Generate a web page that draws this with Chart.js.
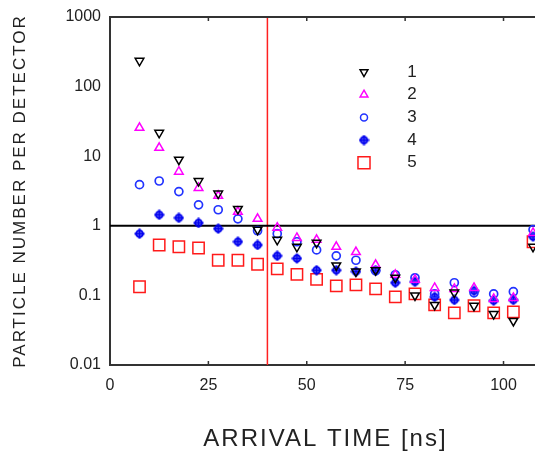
<!DOCTYPE html>
<html lang="en">
<head>
  <meta charset="UTF-8">
  <script src="https://cdn.jsdelivr.net/npm/chart.js"></script>
  <style>
    html, body {
      margin: 0;
      padding: 0;
      background: #fff;
    }

    .chart-wrap {
      position: relative;
      width: 535px;
      height: 455px;
    }
  </style>
</head>
<body>
  <div class="chart-wrap">
    <canvas id="arrival-chart"></canvas>
  </div>
  <script>
    // arrival time bins (ns)
    const arrivalTimes = [7.5, 12.5, 17.5, 22.5, 27.5, 32.5, 37.5, 42.5, 47.5, 52.5, 57.5,
      62.5, 67.5, 72.5, 77.5, 82.5, 87.5, 92.5, 97.5, 102.5, 107.5];

    const detector1 = [235, 21.7, 8.9, 4.4, 2.9, 1.75, 0.88, 0.63, 0.50, 0.57, 0.27,
      0.22, 0.23, 0.18, 0.10, 0.073, 0.11, 0.071, 0.054, 0.043, 0.50];
    const detector2 = [25.6, 13.2, 6.0, 3.5, 2.7, 1.59, 1.26, 0.94, 0.67, 0.63, 0.50,
      0.42, 0.275, 0.198, 0.168, 0.128, 0.124, 0.128, 0.089, 0.092, 0.79];
    const detector3 = [3.9, 4.4, 3.1, 2.0, 1.7, 1.26, 0.85, 0.77, 0.59, 0.45, 0.37,
      0.32, 0.225, 0.198, 0.179, 0.105, 0.152, 0.109, 0.105, 0.113, 0.88];
    const detector4 = [0.77, 1.44, 1.30, 1.10, 0.91, 0.59, 0.53, 0.37, 0.34, 0.23, 0.23,
      0.22, 0.23, 0.152, 0.157, 0.095, 0.086, 0.116, 0.084, 0.086, 0.70];
    const detector5 = [0.133, 0.53, 0.50, 0.48, 0.32, 0.32, 0.28, 0.24, 0.20, 0.17, 0.137,
      0.142, 0.124, 0.095, 0.105, 0.073, 0.056, 0.071, 0.056, 0.058, 0.59];

    const seriesNames = ['1', '2', '3', '4', '5'];
    const xTicks = [0, 25, 50, 75, 100];
    const yTicks = [0.01, 0.1, 1, 10, 100, 1000];
    const cutoffTime = 40;
    const unitLevel = 1;

    // circle with a cross through it, for detector 4
    function crossCircle(color) {
      const c = document.createElement('canvas');
      c.width = 11;
      c.height = 11;
      const g = c.getContext('2d');
      g.strokeStyle = color;
      g.lineWidth = 2;
      g.beginPath();
      g.arc(5.5, 5.5, 3.3, 0, Math.PI * 2);
      g.stroke();
      g.beginPath();
      g.moveTo(5.5, 0.5); g.lineTo(5.5, 10.5);
      g.moveTo(0.5, 5.5); g.lineTo(10.5, 5.5);
      g.stroke();
      return c;
    }

    const toPoints = values => values.map((v, i) => ({ x: arrivalTimes[i], y: v }));

    const styles = [
      { color: '#000000', pointStyle: 'triangle', rotation: 180, radius: 5 },
      { color: '#ff00ff', pointStyle: 'triangle', rotation: 0, radius: 5 },
      { color: '#2233ff', pointStyle: 'circle', rotation: 0, radius: 4 },
      { color: '#0000ee', pointStyle: crossCircle('#0000ee'), rotation: 0, radius: 5 },
      { color: '#ff1a1a', pointStyle: 'rect', rotation: 0, radius: 8 }
    ];
    const allSeries = [detector1, detector2, detector3, detector4, detector5];

    const datasets = allSeries.map((values, i) => ({
      label: seriesNames[i],
      data: toPoints(values),
      showLine: false,
      pointStyle: styles[i].pointStyle,
      rotation: styles[i].rotation,
      pointRadius: styles[i].radius,
      borderColor: styles[i].color,
      backgroundColor: 'rgba(0,0,0,0)',
      borderWidth: i === 2 ? 1.7 : 1.5
    }));

    const frameColor = '#333';

    const extrasPlugin = {
      id: 'extras',
      beforeDatasetsDraw(chart) {
        const { ctx, chartArea, scales } = chart;
        ctx.save();
        // reference lines
        const xc = scales.x.getPixelForValue(cutoffTime);
        ctx.strokeStyle = '#ff2020';
        ctx.lineWidth = 1.5;
        ctx.beginPath();
        ctx.moveTo(xc, chartArea.top);
        ctx.lineTo(xc, chartArea.bottom);
        ctx.stroke();

        const y1 = scales.y.getPixelForValue(unitLevel);
        ctx.strokeStyle = '#000';
        ctx.lineWidth = 2;
        ctx.beginPath();
        ctx.moveTo(chartArea.left, y1);
        ctx.lineTo(chartArea.right, y1);
        ctx.stroke();

        // top frame and inner tick marks
        ctx.strokeStyle = frameColor;
        ctx.beginPath();
        ctx.moveTo(chartArea.left - 1, chartArea.top);
        ctx.lineTo(chartArea.right, chartArea.top);
        ctx.stroke();
        ctx.lineWidth = 1.5;
        xTicks.slice(1).forEach(v => {
          const px = scales.x.getPixelForValue(v);
          ctx.beginPath();
          ctx.moveTo(px, chartArea.bottom);
          ctx.lineTo(px, chartArea.bottom - 4);
          ctx.moveTo(px, chartArea.top);
          ctx.lineTo(px, chartArea.top + 4);
          ctx.stroke();
        });
        ctx.restore();
      },
      afterDraw(chart) {
        const { ctx, chartArea } = chart;
        ctx.save();
        ctx.fillStyle = '#222';
        ctx.textAlign = 'center';
        ctx.textBaseline = 'middle';

        // axis titles
        ctx.letterSpacing = '2px';
        ctx.font = '24px "Liberation Sans", Arial, sans-serif';
        ctx.fillText('ARRIVAL TIME [ns]', (chartArea.left + chartArea.right) / 2 + 3, 439);

        ctx.font = '17px "Liberation Sans", Arial, sans-serif';
        ctx.translate(20, (chartArea.top + chartArea.bottom) / 2);
        ctx.rotate(-Math.PI / 2);
        ctx.fillText('PARTICLE NUMBER PER DETECTOR', 0, 0);
        ctx.restore();

        // legend inside the plot
        ctx.save();
        ctx.font = '17px "Liberation Sans", Arial, sans-serif';
        ctx.textBaseline = 'middle';
        ctx.textAlign = 'center';
        const lx = chartArea.left + 254;
        const ly = chartArea.top + 55;
        datasets.forEach((ds, i) => {
          const y = ly + i * 22.7;
          ctx.strokeStyle = ds.borderColor;
          ctx.fillStyle = 'rgba(0,0,0,0)';
          ctx.lineWidth = 1.5;
          Chart.helpers.drawPoint(ctx, {
            pointStyle: ds.pointStyle,
            radius: i === 4 ? 8.5 : ds.pointRadius - 0.5,
            rotation: ds.rotation,
            borderWidth: 1.5
          }, lx, y);
          ctx.fillStyle = '#222';
          ctx.fillText(ds.label, lx + 48, y);
        });
        ctx.restore();
      }
    };

    const tickFont = { family: '"Liberation Sans", Arial, sans-serif', size: 16 };

    new Chart(document.getElementById('arrival-chart'), {
      type: 'scatter',
      data: { datasets },
      options: {
        responsive: true,
        maintainAspectRatio: false,
        animation: false,
        devicePixelRatio: 1,
        events: [],
        layout: { autoPadding: false, padding: { top: 17, right: 0, left: 0, bottom: 0 } },
        plugins: {
          legend: { display: false },
          tooltip: { enabled: false }
        },
        scales: {
          x: {
            type: 'linear',
            min: 0,
            max: 108,
            afterBuildTicks: s => { s.ticks = xTicks.map(v => ({ value: v })); },
            afterFit: s => {
              s.height = 90;
              s.paddingLeft = 0;
              s.paddingRight = 0;
            },
            grid: { display: false, drawTicks: false },
            border: { color: frameColor, width: 2 },
            ticks: { padding: 11, color: '#222', font: tickFont, maxRotation: 0 }
          },
          y: {
            type: 'logarithmic',
            min: 0.01,
            max: 1000,
            afterBuildTicks: s => { s.ticks = yTicks.map(v => ({ value: v })); },
            afterFit: s => {
              s.width = 110;
              s.paddingTop = 0;
              s.paddingBottom = 0;
            },
            grid: { display: false, drawTicks: false },
            border: { color: frameColor, width: 2 },
            ticks: {
              padding: 9,
              color: '#222',
              font: tickFont,
              callback: v => String(v)
            }
          }
        }
      },
      plugins: [extrasPlugin]
    });
  </script>
</body>
</html>
